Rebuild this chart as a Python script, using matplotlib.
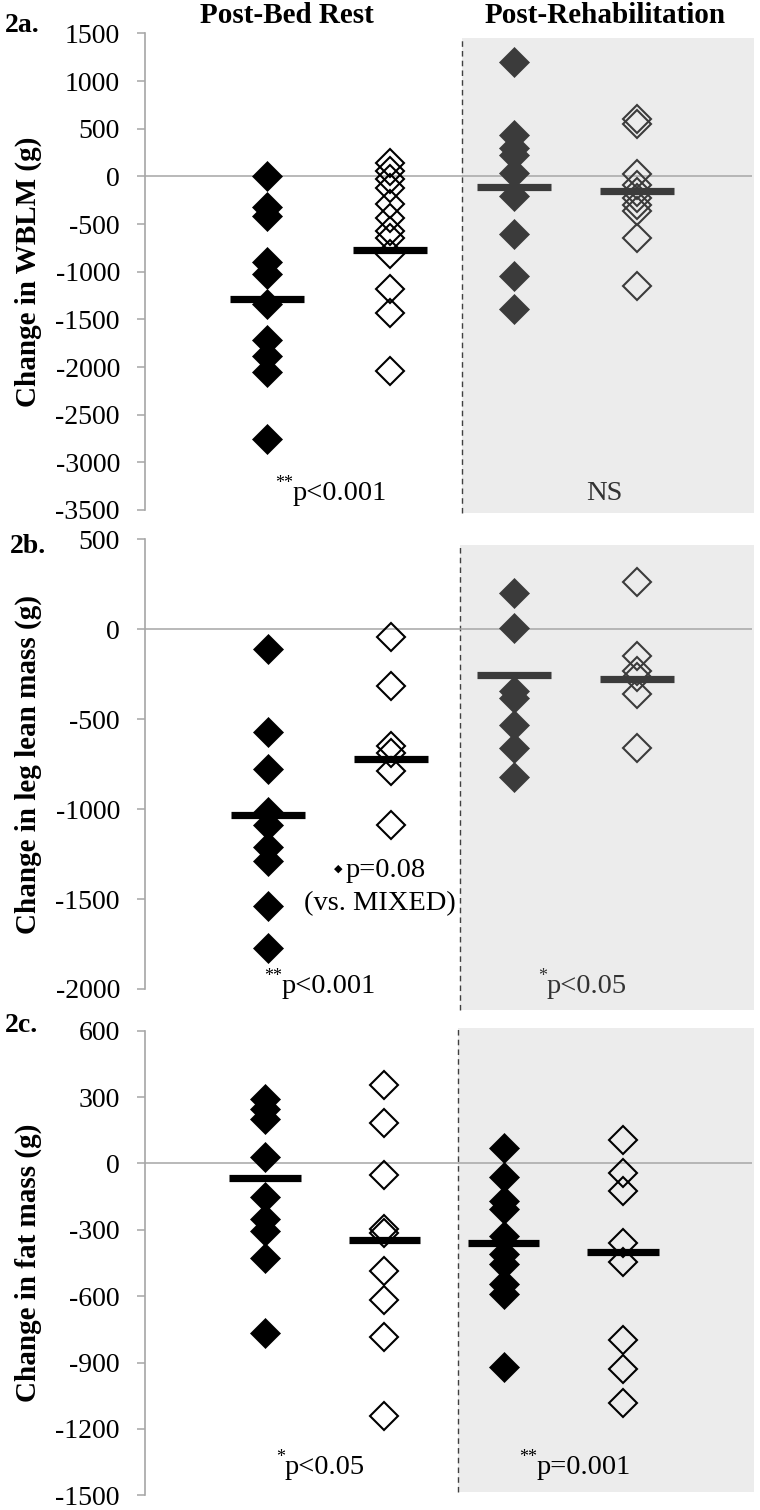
import matplotlib
matplotlib.use("Agg")
import matplotlib.pyplot as plt
import matplotlib.transforms as mtransforms
from matplotlib.patches import Rectangle
import numpy as np

plt.rcParams['font.family'] = ['Liberation Serif', 'DejaVu Serif']
plt.rcParams['axes.unicode_minus'] = False

# ---------------- data ----------------
categories = ["Bed rest (filled)", "Bed rest (open)", "Rehab (filled)", "Rehab (open)"]
cat_x = [1, 2, 3, 4]

# Panel 2a: Change in WBLM (g)
a_bed_filled = [0, -320, -410, -900, -1020, -1340, -1720, -1880, -2050, -2760]
a_bed_open = [140, 60, -30, -120, -290, -440, -570, -650, -810, -1180, -1430, -2040]
a_reh_filled = [1200, 430, 300, 220, 40, -200, -600, -1046, -1390]
a_reh_open = [600, 550, 30, -90, -160, -230, -300, -360, -650, -1145]
a_means = [-1285, -767, -111, -153]

# Panel 2b: Change in leg lean mass (g)
b_bed_filled = [-110, -572, -776, -1017, -1091, -1212, -1286, -1537, -1770]
b_bed_open = [-45, -317, -650, -690, -786, -1091]
b_reh_filled = [204, 9, -343, -380, -534, -661, -824]
b_reh_open = [264, -148, -231, -268, -361, -661]
b_means = [-1032, -721, -255, -274]

# Panel 2c: Change in fat mass (g)
c_bed_filled = [290, 245, 200, 30, -153, -251, -304, -427, -768]
c_bed_open = [354, 182, -51, -295, -315, -484, -617, -783, -1140]
c_reh_filled = [72, -63, -169, -206, -326, -409, -454, -545, -590, -922]
c_reh_open = [106, -45, -123, -361, -447, -798, -929, -1085]
c_means = [-68, -345, -361, -399]

panel_labels = ["2a.", "2b.", "2c."]
ylabels = ["Change in WBLM (g)", "Change in leg lean mass (g)", "Change in fat mass (g)"]
ylims = [(-3500, 1500), (-2000, 500), (-1500, 600)]
ysteps = [500, 500, 300]
column_titles = ["Post-Bed Rest", "Post-Rehabilitation"]

# ---------------- layout ----------------
W, H = 760, 1510
fig = plt.figure(figsize=(W / 100, H / 100), dpi=100)

def fx(px):
    return px / W

def fy(py):
    return 1 - py / H

ax_left, ax_right = 145, 752
layouts = [
    dict(top=33.5, bot=510, p1=267, sp=123.3, dash=462, sh=(-0.006, 0.991)),
    dict(top=539.3, bot=989, p1=268, sp=123.0, dash=460, sh=(-0.047, 0.987)),
    dict(top=1030.7, bot=1495.3, p1=265, sp=119.3, dash=458, sh=(0.007, 1.006)),
]

panels = [
    (a_bed_filled, a_bed_open, a_reh_filled, a_reh_open, a_means, '#3b3b3b'),
    (b_bed_filled, b_bed_open, b_reh_filled, b_reh_open, b_means, '#3b3b3b'),
    (c_bed_filled, c_bed_open, c_reh_filled, c_reh_open, c_means, '#000000'),
]

spine_col = '#a6a6a6'
shade_col = '#ececec'

for i, (lay, pan) in enumerate(zip(layouts, panels)):
    top, bot = lay['top'], lay['bot']
    ax = fig.add_axes([fx(ax_left), fy(bot), fx(ax_right) - fx(ax_left), (bot - top) / H])
    ax.patch.set_alpha(0)
    x0 = (ax_left - lay['p1']) / lay['sp'] + 1
    x1 = (ax_right - lay['p1']) / lay['sp'] + 1
    xd = (lay['dash'] - lay['p1']) / lay['sp'] + 1
    ax.set_xlim(x0, x1)
    ax.set_ylim(*ylims[i])

    trans = mtransforms.blended_transform_factory(ax.transData, ax.transAxes)
    sb, st = lay['sh']
    ax.add_patch(Rectangle((xd, sb), x1 + 0.02 - xd, st - sb, transform=trans,
                           facecolor=shade_col, edgecolor='none', zorder=0, clip_on=False))
    ax.plot([xd, xd], [sb, st], transform=trans, color='#404040', lw=1.0,
            ls=(0, (4, 3)), zorder=1, clip_on=False)
    ax.axhline(0, color='#a6a6a6', lw=1.1, zorder=1)

    bf, bo, rf, ro, means, rcol = pan
    ms = 14.8
    ax.plot([cat_x[0]] * len(bf), bf, ls='none', marker='D', ms=ms, mfc='black',
            mec='black', mew=0.5, zorder=3)
    ax.plot([cat_x[1]] * len(bo), bo, ls='none', marker='D', ms=13.8, mfc='none',
            mec='black', mew=1.5, zorder=3)
    ax.plot([cat_x[2]] * len(rf), rf, ls='none', marker='D', ms=ms, mfc=rcol,
            mec=rcol, mew=0.5, zorder=3)
    ax.plot([cat_x[3]] * len(ro), ro, ls='none', marker='D', ms=13.8, mfc='none',
            mec=rcol, mew=1.5, zorder=3)
    mcols = ['black', 'black', rcol, rcol]
    for xc, m, c in zip(cat_x, means, mcols):
        ax.hlines(m, xc - 0.3, xc + 0.3, colors=c, lw=5.2, zorder=4)

    lo, hi = ylims[i]
    ax.set_yticks(np.arange(lo, hi + 1, ysteps[i]))
    ax.set_xticks([])
    for s in ['top', 'right', 'bottom']:
        ax.spines[s].set_visible(False)
    ax.spines['left'].set_color(spine_col)
    ax.spines['left'].set_linewidth(1.2)
    ax.tick_params(axis='y', direction='out', length=6, width=1.1, color=spine_col,
                   labelsize=20, pad=12, labelcolor='black')

    fig.text(fx(28), fy((top + bot) / 2), ylabels[i], rotation=90, ha='center',
             va='center', fontsize=21, fontweight='bold')

# panel labels
fig.text(fx(5), fy(32), panel_labels[0], fontsize=20, fontweight='bold', va='baseline')
fig.text(fx(10), fy(553), panel_labels[1], fontsize=20, fontweight='bold', va='baseline')
fig.text(fx(5), fy(1032), panel_labels[2], fontsize=20, fontweight='bold', va='baseline')

# column titles
fig.text(fx(287), fy(23), column_titles[0], fontsize=21, fontweight='bold', ha='center', va='baseline')
fig.text(fx(605), fy(23), column_titles[1], fontsize=21, fontweight='bold', ha='center', va='baseline')

def sig(xp, yb, sup, txt, color='black'):
    if sup:
        fig.text(fx(xp), fy(yb - 12), sup, fontsize=13, ha='right', va='baseline', color=color)
    fig.text(fx(xp), fy(yb), txt, fontsize=20.5, ha='left', va='baseline', color=color)

sig(293, 500, '**', 'p<0.001')
fig.text(fx(604), fy(500), 'NS', fontsize=20.5, ha='center', va='baseline', color='#333333')
sig(282, 993, '**', 'p<0.001')
sig(547, 993, '*', 'p<0.05', color='#333333')
sig(285, 1474, '*', 'p<0.05')
sig(537, 1474, '**', 'p=0.001')

fig.text(fx(338), fy(872), '\u25C6', fontsize=8, ha='center', va='baseline',
         family=['DejaVu Sans'])
fig.text(fx(346), fy(877), 'p=0.08', fontsize=20.5, ha='left', va='baseline')
fig.text(fx(380), fy(910), '(vs. MIXED)', fontsize=20.5, ha='center', va='baseline')

fig.savefig('out.png', dpi=100)
